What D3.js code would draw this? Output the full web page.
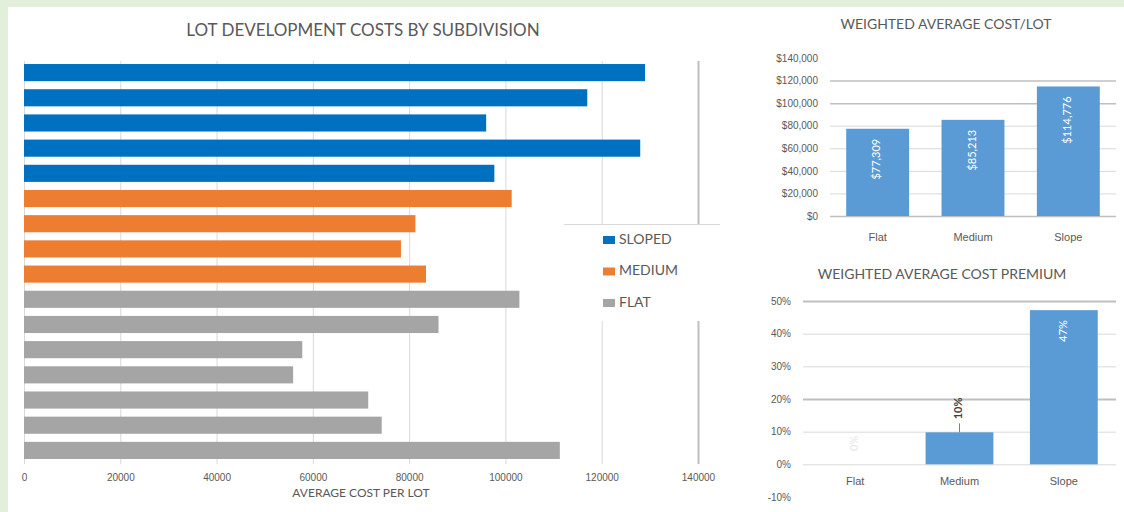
<!DOCTYPE html>
<html>
<head>
<meta charset="utf-8">
<script src="https://cdnjs.cloudflare.com/ajax/libs/d3/7.8.5/d3.min.js"></script>
<style>
body { margin: 0; background: #e2efda; }
svg { display: block; font-family: Lato, "Open Sans", sans-serif; }
</style>
</head>
<body>
<svg id="chart" width="1124" height="512"></svg>
<script>
// main chart values (cost per lot)
const sloped = [129000, 117000, 96000, 128000, 97700];
const medium = [101300, 81300, 78300, 83500];
const flat = [102900, 86100, 57800, 55900, 71500, 74300, 111300];
const groups = ["SLOPED", "MEDIUM", "FLAT"];
const groupColors = ["#0070c0", "#ed7d31", "#a5a5a5"];
const xTicks = [0, 20000, 40000, 60000, 80000, 100000, 120000, 140000];

// weighted average cost / lot
const wCats = ["Flat", "Medium", "Slope"];
const wCost = [77309, 85213, 114776];
const wCostTicks = [0, 20000, 40000, 60000, 80000, 100000, 120000, 140000];

// weighted average cost premium
const premium = [0, 0.098, 0.472];
const premiumLabels = ["0%", "10%", "47%"];
const premiumTicks = [-0.1, 0, 0.1, 0.2, 0.3, 0.4, 0.5];

const svg = d3.select("#chart");
const txt = "#595959";

svg.append("rect")
    .attr("x", 8).attr("y", 7)
    .attr("width", 1116).attr("height", 505)
    .attr("fill", "#fff");

// ---------- main horizontal bar chart ----------
const rows = [];
[sloped, medium, flat].forEach((arr, g) => {
    arr.forEach((v) => rows.push({ g: g, v: v }));
});

const x = d3.scaleLinear().domain([0, 140000]).range([24, 698]);
const y = d3.scaleBand()
    .domain(d3.range(rows.length))
    .range([60, 463])
    .paddingInner(0.32)
    .paddingOuter(0.16);

const xAxis = svg.append("g")
    .attr("transform", "translate(0,464)")
    .call(d3.axisBottom(x).tickValues(xTicks).tickSize(-403).tickSizeOuter(0).tickPadding(10).tickFormat(d3.format("d")));
xAxis.select(".domain").remove();
xAxis.selectAll(".tick line")
    .attr("stroke", (d) => d === 140000 ? "#bfbfbf" : "#d9d9d9")
    .attr("stroke-width", (d) => d === 140000 ? 2 : 1);
xAxis.selectAll(".tick text")
    .attr("fill", txt)
    .style("font-size", "10px");

svg.append("g")
    .selectAll("rect")
    .data(rows)
    .join("rect")
    .attr("x", x(0))
    .attr("y", (d, i) => y(i))
    .attr("width", (d) => x(d.v) - x(0))
    .attr("height", y.bandwidth())
    .attr("fill", (d) => groupColors[d.g]);

svg.append("text")
    .attr("x", 363).attr("y", 32)
    .attr("text-anchor", "middle")
    .attr("dominant-baseline", "middle")
    .attr("fill", txt)
    .style("font-size", "17px")
    .text("LOT DEVELOPMENT COSTS BY SUBDIVISION");

svg.append("text")
    .attr("x", 361).attr("y", 494)
    .attr("text-anchor", "middle")
    .attr("dominant-baseline", "middle")
    .attr("fill", txt)
    .style("font-size", "12px")
    .text("AVERAGE COST PER LOT");

// legend
const legend = svg.append("g");
legend.append("rect")
    .attr("x", 564).attr("y", 225)
    .attr("width", 156).attr("height", 96)
    .attr("fill", "#fff");
legend.append("line")
    .attr("x1", 564).attr("x2", 720)
    .attr("y1", 224.5).attr("y2", 224.5)
    .attr("stroke", "#d9d9d9");
groups.forEach((name, i) => {
    const cy = 240 + i * 31.5;
    legend.append("rect")
        .attr("x", 603).attr("y", cy - 4)
        .attr("width", 12).attr("height", 8)
        .attr("fill", groupColors[i]);
    legend.append("text")
        .attr("x", 619).attr("y", cy)
        .attr("dominant-baseline", "middle")
        .attr("fill", txt)
        .style("font-size", "14px")
        .text(name);
});

// ---------- weighted average cost/lot ----------
const xW = d3.scaleBand().domain(wCats).range([830, 1116]).paddingInner(0.34).paddingOuter(0.17);
const yW = d3.scaleLinear().domain([0, 140000]).range([216, 58]);

const yWAxis = svg.append("g")
    .attr("transform", "translate(830,0)")
    .call(d3.axisLeft(yW).tickValues(wCostTicks).tickSize(-286).tickSizeOuter(0).tickPadding(12)
        .tickFormat((d) => "$" + d3.format(",")(d)));
yWAxis.select(".domain").remove();
yWAxis.selectAll(".tick line")
    .attr("stroke", (d) => d === 140000 ? "none" : (d === 0 || d >= 100000 ? "#bfbfbf" : "#d9d9d9"))
    .attr("stroke-width", (d) => d === 0 || d >= 100000 ? 1.5 : 1);
yWAxis.selectAll(".tick text").attr("fill", txt).style("font-size", "10px");

svg.append("g")
    .selectAll("rect")
    .data(wCost)
    .join("rect")
    .attr("x", (d, i) => xW(wCats[i]))
    .attr("y", (d) => yW(d))
    .attr("width", xW.bandwidth())
    .attr("height", (d) => yW(0) - yW(d))
    .attr("fill", "#5b9bd5");

svg.append("g")
    .selectAll("text")
    .data(wCost)
    .join("text")
    .attr("transform", (d, i) => `translate(${xW(wCats[i]) + xW.bandwidth() / 2},${yW(d) + 10}) rotate(-90)`)
    .attr("text-anchor", "end")
    .attr("dominant-baseline", "middle")
    .attr("fill", "#fff")
    .style("font-size", "11px")
    .text((d) => "$" + d3.format(",")(d));

const xWAxis = svg.append("g")
    .attr("transform", `translate(0,${yW(0)})`)
    .call(d3.axisBottom(xW).tickSize(0).tickPadding(17));
xWAxis.select(".domain").remove();
xWAxis.selectAll(".tick text").attr("fill", txt).style("font-size", "11px");

svg.append("text")
    .attr("x", 946).attr("y", 25)
    .attr("text-anchor", "middle")
    .attr("dominant-baseline", "middle")
    .attr("fill", txt)
    .style("font-size", "14px")
    .text("WEIGHTED AVERAGE COST/LOT");

// ---------- weighted average cost premium ----------
const xP = d3.scaleBand().domain(wCats).range([803, 1116]).paddingInner(0.35).paddingOuter(0.175);
const yP = d3.scaleLinear().domain([-0.1, 0.5]).range([497, 301]);

const yPAxis = svg.append("g")
    .attr("transform", "translate(803,0)")
    .call(d3.axisLeft(yP).tickValues(premiumTicks).tickSize(-313).tickSizeOuter(0).tickPadding(12)
        .tickFormat((d) => Math.round(d * 100) + "%"));
yPAxis.select(".domain").remove();
yPAxis.selectAll(".tick line")
    .attr("stroke", (d) => d < 0 ? "none" : (Math.abs(d - 0.5) < 1e-9 || Math.abs(d - 0.2) < 1e-9 ? "#bfbfbf" : "#d9d9d9"))
    .attr("stroke-width", (d) => Math.abs(d - 0.5) < 1e-9 || Math.abs(d - 0.2) < 1e-9 ? 2 : 1);
yPAxis.selectAll(".tick text").attr("fill", txt).style("font-size", "10px");

svg.append("g")
    .selectAll("rect")
    .data(premium)
    .join("rect")
    .attr("x", (d, i) => xP(wCats[i]))
    .attr("y", (d) => yP(d))
    .attr("width", xP.bandwidth())
    .attr("height", (d) => yP(0) - yP(d))
    .attr("fill", "#5b9bd5");

const pLab = svg.append("g");
premium.forEach((v, i) => {
    const cx = xP(wCats[i]) + xP.bandwidth() / 2;
    if (i === 1) {
        // outside label with leader line
        pLab.append("line")
            .attr("x1", cx).attr("x2", cx)
            .attr("y1", yP(v)).attr("y2", yP(v) - 9)
            .attr("stroke", "#7f7f7f");
        pLab.append("text")
            .attr("transform", `translate(${cx},${yP(v) - 13}) rotate(-90)`)
            .attr("text-anchor", "start")
            .attr("dominant-baseline", "middle")
            .attr("fill", "#404040")
            .style("font-size", "11px")
            .style("font-weight", "bold")
            .text(premiumLabels[i]);
    } else if (i === 0) {
        pLab.append("text")
            .attr("transform", `translate(${cx},${yP(v) - 21}) rotate(-90)`)
            .attr("text-anchor", "middle")
            .attr("dominant-baseline", "middle")
            .attr("fill", "#e6e6e6")
            .style("font-size", "11px")
            .text(premiumLabels[i]);
    } else {
        pLab.append("text")
            .attr("transform", `translate(${cx},${yP(v) + 10}) rotate(-90)`)
            .attr("text-anchor", "end")
            .attr("dominant-baseline", "middle")
            .attr("fill", "#fff")
            .style("font-size", "11px")
            .text(premiumLabels[i]);
    }
});

const xPAxis = svg.append("g")
    .attr("transform", `translate(0,${yP(0)})`)
    .call(d3.axisBottom(xP).tickSize(0).tickPadding(13));
xPAxis.select(".domain").remove();
xPAxis.selectAll(".tick text").attr("fill", txt).style("font-size", "11px");

svg.append("text")
    .attr("x", 942).attr("y", 275)
    .attr("text-anchor", "middle")
    .attr("dominant-baseline", "middle")
    .attr("fill", txt)
    .style("font-size", "14px")
    .text("WEIGHTED AVERAGE COST PREMIUM");
</script>
</body>
</html>
